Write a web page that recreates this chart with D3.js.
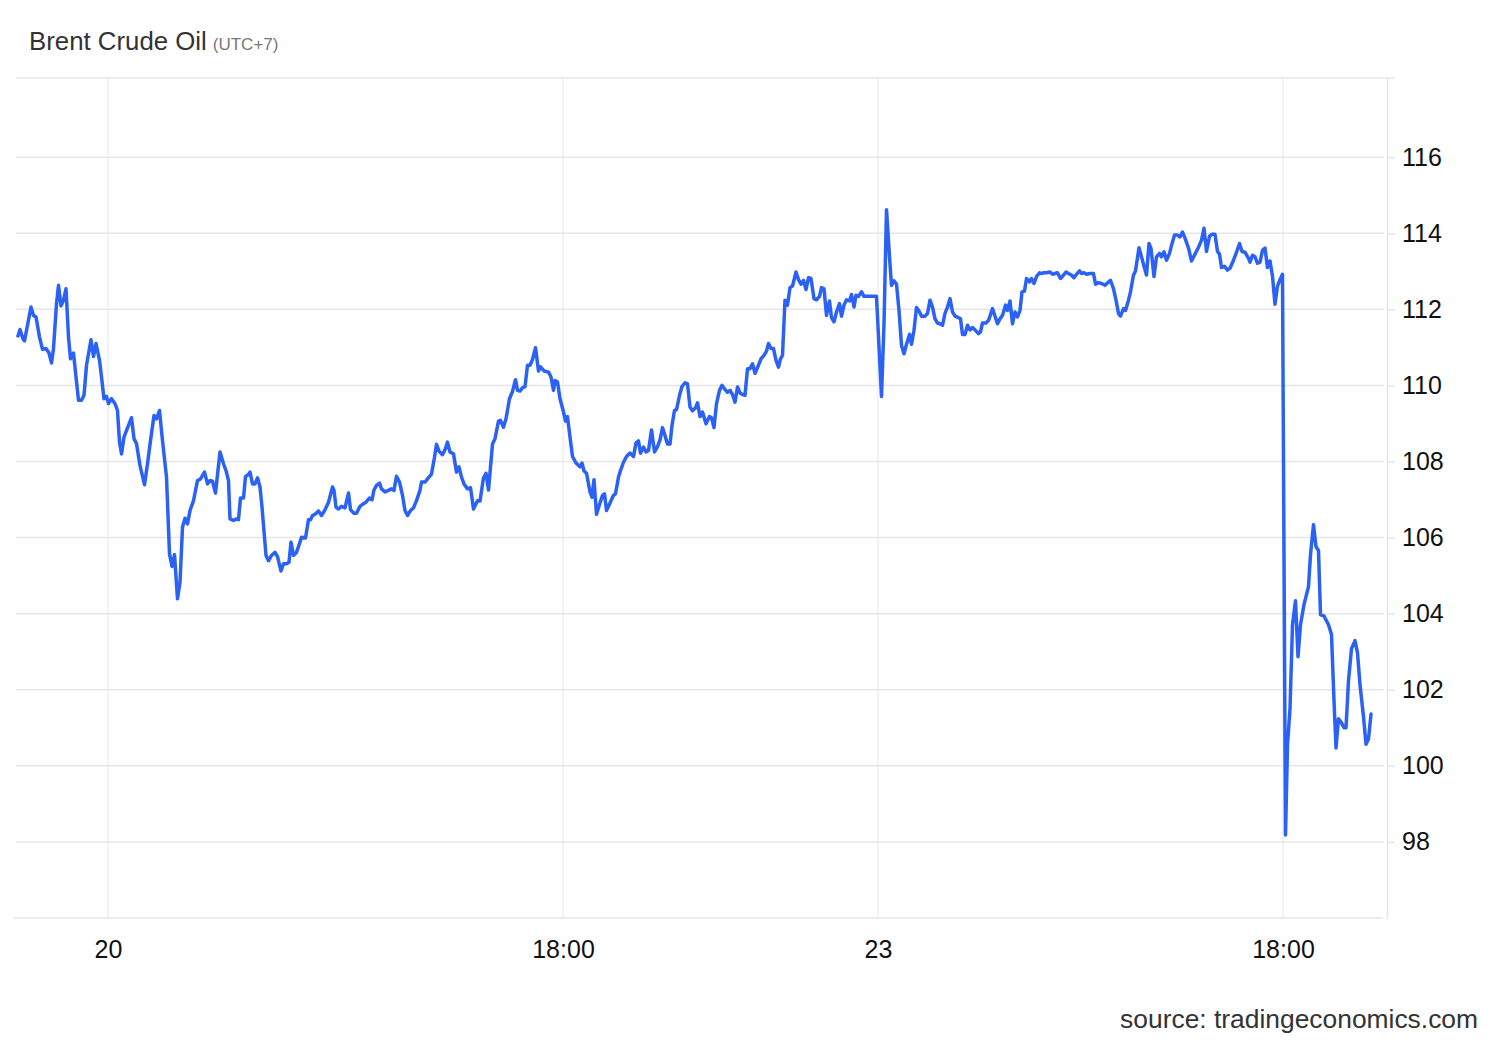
<!DOCTYPE html>
<html>
<head>
<meta charset="utf-8">
<script src="https://cdn.jsdelivr.net/npm/d3@7"></script>
<style>
  body { margin: 0; background: #fff; }
  svg { display: block; font-family: "Liberation Sans", Arial, sans-serif; }
</style>
</head>
<body>
<svg></svg>
<script>
const width = 1500;
const height = 1040;

// ================================
// Data (time slots are trading-time steps)
// ================================

const slots = [
  0, 0.4, 1.0, 1.3, 1.9, 2.6, 3.1, 3.6, 4.3, 4.9, 5.6, 6.2, 6.7, 7.1, 7.7, 8.1, 8.6, 9.1, 9.6, 10.1,
  10.5, 11.1, 11.6, 12.1, 12.7, 13.2, 13.7, 14.6, 15.1, 15.6, 16.3, 16.7, 17.2, 17.7, 18.1, 18.7, 19.4, 19.9, 20.3, 20.7,
  21.2, 22.1, 22.7, 23.2, 23.7, 24.4, 25.3, 25.9, 26.5, 27.2, 27.7, 28.3, 28.9, 29.7, 30.3, 30.8, 31.3, 31.9, 32.4, 32.9,
  33.4, 33.9, 34.4, 35.1, 35.9, 36.5, 37.3, 37.9, 38.4, 38.9, 39.5, 40.4, 41.1, 41.6, 42.1, 42.4, 43.1, 43.6, 44.1, 44.5,
  45.1, 45.5, 46.1, 46.4, 46.9, 47.4, 47.9, 48.4, 48.8, 49.6, 50.1, 50.7, 51.4, 51.9, 52.6, 53.1, 53.7, 54.2, 54.6, 55.1,
  55.7, 56.4, 56.7, 57.5, 58.1, 58.5, 58.9, 59.4, 60.1, 60.7, 61.4, 62.1, 62.9, 63.2, 63.6, 64.1, 64.7, 65.4, 66.1, 66.5,
  67.2, 67.7, 68.4, 69.1, 69.6, 70.3, 70.8, 71.2, 71.7, 72.3, 72.7, 73.4, 74.1, 74.7, 75.2, 75.7, 76.3, 76.9, 77.4, 77.9,
  78.5, 79.1, 79.7, 80.4, 80.7, 81.4, 81.9, 82.7, 83.3, 83.7, 84.2, 84.9, 85.4, 85.9, 86.4, 87.1, 87.7, 88.2, 88.7, 89.2,
  89.9, 90.5, 91.1, 91.9, 92.4, 93.1, 93.6, 94.1, 94.9, 95.4, 96.1, 96.5, 97.1, 97.6, 98.3, 98.9, 99.5, 99.9, 100.4, 100.9,
  101.4, 101.9, 102.4, 102.9, 103.5, 104.1, 104.5, 105.2, 106.1, 106.6, 107.1, 107.4, 107.9, 108.4, 109.1, 109.5, 109.9, 110.4, 110.9, 111.6,
  112.4, 112.8, 113.2, 113.7, 114.4, 114.8, 115.2, 115.7, 116.3, 116.9, 117.3, 117.7, 118.4, 119.1, 119.5, 120.1, 120.5, 121.1, 121.7, 122.4,
  123.1, 123.6, 124.1, 124.5, 125.1, 125.6, 126.1, 126.7, 127.3, 127.9, 128.4, 128.9, 129.4, 129.9, 130.4, 130.8, 131.3, 131.7, 132.3, 132.8,
  133.4, 133.9, 134.4, 134.9, 135.5, 135.9, 136.4, 136.9, 137.6, 138.3, 138.7, 139.2, 139.7, 140.3, 140.8, 141.3, 141.9, 142.4, 142.9, 143.4,
  143.9, 144.4, 144.9, 145.4, 145.9, 146.4, 146.9, 147.4, 148.1, 148.6, 149.2, 149.7, 150.1, 150.6, 151.1, 151.6, 152.1, 152.5, 152.9, 153.4,
  153.9, 154.4, 154.9, 155.6, 156.1, 156.6, 157.1, 157.6, 158.1, 158.6, 159.2, 159.7, 160.3, 160.7, 161.2, 161.7, 162.3, 162.7, 163.2, 163.7,
  164.3, 164.7, 165.2, 165.7, 166.3, 166.7, 167.2, 167.6, 168.1, 168.7, 169.2, 170.4, 171.7, 172.3, 172.7, 173.2, 173.7, 174.3, 174.7, 175.2,
  175.7, 176.2, 176.7, 177.2, 177.7, 178.3, 178.7, 179.2, 179.7, 180.3, 180.7, 181.4, 181.9, 182.4, 182.9, 183.4, 183.9, 184.4, 184.9, 185.4,
  185.9, 186.4, 186.9, 187.4, 188.1, 188.5, 188.9, 189.4, 189.9, 190.4, 190.9, 191.4, 192.1, 192.5, 192.9, 193.6, 194.1, 194.4, 194.9, 195.4,
  195.9, 196.4, 196.9, 197.5, 197.9, 198.4, 198.9, 199.4, 199.9, 200.4, 200.8, 201.3, 201.7, 202.3, 202.7, 203.2, 203.7, 204.3, 204.7, 205.2,
  205.7, 206.4, 206.9, 207.4, 207.9, 208.5, 209.1, 209.6, 210.1, 210.7, 211.2, 211.7, 212.3, 212.7, 213.2, 213.7, 214.4, 215.1, 215.5, 216.1,
  216.7, 217.4, 218.1, 218.5, 219.1, 219.6, 220.1, 220.5, 221.1, 221.5, 222.1, 222.5, 223.1, 223.5, 224.2, 224.7, 225.2, 225.7, 226.2, 226.6,
  227.2, 227.7, 228.3, 228.7, 229.2, 229.7, 230.3, 230.7, 231.3, 231.9, 232.4, 232.9, 233.4, 234.1, 234.7, 235.4, 236.1, 236.7, 237.2, 237.7,
  238.3, 238.8, 239.4, 239.9, 240.3, 240.7, 241.3, 241.9, 242.4, 243.1, 243.7, 244.3, 244.8, 245.4, 246.1, 246.4, 246.9, 247.4, 247.9, 248.4,
  248.9, 249.4, 249.9, 250.4, 250.9, 251.4, 251.9, 252.4, 252.9, 253.5, 253.9, 254.4, 254.9, 255.5, 256.0, 256.5, 257.2, 258.1, 258.5, 259.1,
  259.6, 260.1, 260.5, 261.2, 262.1, 262.7, 263.2, 263.6, 264.1, 264.7, 265.2, 265.6, 266.1, 266.7, 267.4, 267.9, 268.4, 269.1, 269.6, 270.1,
  270.6
];

const prices = [
  111.30, 111.47, 111.22, 111.17, 111.58, 112.06, 111.84, 111.80, 111.27, 110.95, 110.97, 110.85, 110.59, 110.97, 112.15, 112.63, 112.09, 112.24, 112.54, 111.27,
  110.70, 110.85, 110.22, 109.61, 109.61, 109.74, 110.53, 111.20, 110.76, 111.10, 110.66, 110.22, 109.65, 109.71, 109.52, 109.65, 109.52, 109.34, 108.51, 108.20,
  108.64, 108.95, 109.15, 108.60, 108.47, 107.89, 107.39, 107.94, 108.55, 109.21, 109.12, 109.34, 108.55, 107.59, 105.57, 105.24, 105.55, 104.39, 104.82, 106.27,
  106.51, 106.36, 106.71, 106.97, 107.50, 107.54, 107.72, 107.41, 107.50, 107.48, 107.17, 108.25, 107.94, 107.76, 107.50, 106.49, 106.45, 106.49, 106.47, 107.04,
  107.04, 107.60, 107.66, 107.72, 107.41, 107.41, 107.57, 107.33, 106.80, 105.53, 105.39, 105.53, 105.61, 105.50, 105.12, 105.31, 105.31, 105.35, 105.88, 105.53,
  105.61, 105.88, 106.01, 105.99, 106.47, 106.47, 106.58, 106.61, 106.70, 106.58, 106.73, 106.93, 107.33, 107.24, 106.80, 106.75, 106.82, 106.78, 107.17, 106.73,
  106.64, 106.64, 106.82, 106.89, 106.93, 107.04, 106.99, 107.25, 107.37, 107.43, 107.28, 107.20, 107.24, 107.28, 107.24, 107.61, 107.46, 107.11, 106.71, 106.58,
  106.71, 106.78, 106.97, 107.24, 107.46, 107.46, 107.54, 107.67, 108.11, 108.45, 108.27, 108.18, 108.31, 108.51, 108.25, 108.20, 107.72, 107.86, 107.59, 107.41,
  107.28, 107.31, 106.75, 106.97, 106.96, 107.57, 107.69, 107.25, 108.46, 108.60, 109.06, 109.08, 108.90, 109.12, 109.65, 109.84, 110.15, 109.87, 109.85, 109.94,
  109.96, 110.53, 110.53, 110.68, 110.99, 110.38, 110.49, 110.38, 110.35, 110.22, 109.87, 110.13, 110.09, 109.65, 109.30, 109.06, 109.18, 108.64, 108.13, 107.96,
  107.86, 107.96, 107.75, 107.69, 107.20, 107.06, 107.52, 106.61, 106.87, 107.11, 107.15, 106.71, 106.91, 107.11, 107.15, 107.59, 107.76, 107.98, 108.13, 108.22,
  108.13, 108.49, 108.54, 108.22, 108.38, 108.25, 108.29, 108.83, 108.25, 108.39, 108.57, 108.89, 108.68, 108.46, 108.46, 108.95, 109.34, 109.36, 109.74, 109.97,
  110.07, 110.04, 109.43, 109.33, 109.41, 109.54, 109.18, 109.30, 108.99, 109.18, 109.15, 108.89, 109.52, 109.87, 110.00, 109.91, 109.82, 109.87, 109.76, 109.56,
  109.96, 109.80, 109.76, 109.74, 110.44, 110.44, 110.57, 110.32, 110.53, 110.70, 110.79, 110.90, 111.10, 110.97, 110.97, 110.66, 110.48, 110.70, 110.79, 112.24,
  112.11, 112.57, 112.61, 112.98, 112.78, 112.66, 112.76, 112.52, 112.83, 112.81, 112.28, 112.25, 112.34, 112.57, 112.54, 111.84, 112.22, 111.78, 111.67, 111.93,
  112.15, 111.82, 112.11, 112.25, 112.22, 112.39, 112.06, 112.37, 112.34, 112.46, 112.34, 112.34, 112.34, 110.75, 109.71, 111.62, 114.62, 113.38, 112.63, 112.75,
  112.66, 111.97, 111.05, 110.83, 111.08, 111.34, 111.08, 111.45, 112.05, 111.93, 111.82, 111.82, 111.89, 112.24, 112.06, 111.75, 111.64, 111.62, 111.58, 111.89,
  112.06, 112.28, 111.93, 111.82, 111.78, 111.75, 111.34, 111.34, 111.58, 111.46, 111.52, 111.46, 111.36, 111.41, 111.64, 111.64, 111.71, 111.82, 112.02, 111.82,
  111.62, 111.75, 111.84, 112.11, 111.97, 112.22, 111.62, 111.93, 111.80, 111.97, 112.46, 112.48, 112.81, 112.72, 112.81, 112.68, 112.86, 112.96, 112.94, 112.96,
  112.96, 112.98, 112.92, 112.94, 112.96, 112.81, 112.90, 112.98, 112.94, 112.90, 112.83, 112.92, 113.01, 112.94, 112.96, 112.92, 112.94, 112.94, 112.66, 112.70,
  112.68, 112.63, 112.72, 112.76, 112.54, 112.24, 111.89, 111.82, 112.02, 111.97, 112.24, 112.46, 112.90, 113.01, 113.62, 113.38, 113.13, 112.90, 113.73, 113.60,
  112.86, 113.38, 113.47, 113.38, 113.51, 113.29, 113.47, 113.68, 113.95, 113.95, 113.90, 114.03, 113.87, 113.61, 113.27, 113.45, 113.63, 113.82, 114.13, 113.52,
  113.92, 113.97, 113.97, 113.52, 113.45, 113.10, 113.13, 113.03, 113.08, 113.29, 113.50, 113.73, 113.52, 113.50, 113.34, 113.24, 113.42, 113.38, 113.21, 113.24,
  113.55, 113.61, 113.10, 113.27, 112.87, 112.13, 112.61, 112.78, 112.92, 98.18, 100.55, 101.50, 103.71, 104.34, 102.87, 103.71, 104.24, 104.71, 105.55, 106.34,
  105.76, 105.66, 103.97, 103.94, 103.71, 103.45, 101.71, 100.47, 101.24, 101.13, 101.00, 101.00, 102.24, 103.08, 103.29, 102.97, 102.13, 101.29, 100.57, 100.71,
  101.36
];

const yTicks = [98, 100, 102, 104, 106, 108, 110, 112, 114, 116];
const xTickSlots = [18, 109, 172, 253];
const xTickLabels = ['20', '18:00', '23', '18:00'];

// ================================
// Layout
// ================================

const plot = { left: 17, right: 1387, top: 78, bottom: 918 };
const gridColor = '#e6e6e6';

const svg = d3.select('svg')
  .attr('width', width)
  .attr('height', height);

const x = d3.scaleLinear()
  .domain([-0.2, 273.8])
  .range([plot.left, plot.right]);

const y = d3.scaleLinear()
  .domain([96, 118.08])
  .range([plot.bottom, plot.top]);

// ================================
// Grid
// ================================

svg.append('g')
  .selectAll('line')
  .data(xTickSlots)
  .enter()
  .append('line')
    .attr('x1', d => x(d))
    .attr('x2', d => x(d))
    .attr('y1', plot.top)
    .attr('y2', plot.bottom)
    .attr('stroke', '#efefef')
    .attr('stroke-width', 1.5);

svg.append('g')
  .selectAll('line')
  .data(yTicks)
  .enter()
  .append('line')
    .attr('x1', plot.left - 1)
    .attr('x2', plot.right - 3)
    .attr('y1', d => y(d))
    .attr('y2', d => y(d))
    .attr('stroke', gridColor)
    .attr('stroke-width', 1.5);

// top and bottom frame lines
svg.append('line')
  .attr('x1', plot.left - 1).attr('x2', plot.right + 8)
  .attr('y1', plot.top).attr('y2', plot.top)
  .attr('stroke', gridColor).attr('stroke-width', 1.5);

svg.append('line')
  .attr('x1', plot.left - 3).attr('x2', plot.right - 4)
  .attr('y1', plot.bottom).attr('y2', plot.bottom)
  .attr('stroke', gridColor).attr('stroke-width', 1.5);

// ================================
// Axes
// ================================

const yAxis = svg.append('g')
  .attr('transform', `translate(${plot.right},0)`)
  .call(d3.axisRight(y)
    .tickValues(yTicks)
    .tickSize(8)
    .tickSizeOuter(0)
    .tickPadding(7));

yAxis.select('.domain').attr('stroke', gridColor).attr('stroke-width', 1.5);
yAxis.selectAll('.tick line').attr('stroke', gridColor).attr('stroke-width', 1.5);
yAxis.selectAll('.tick text')
  .attr('fill', '#111')
  .style('font-size', '25px');

const xAxis = svg.append('g')
  .attr('transform', `translate(0,${plot.bottom})`)
  .call(d3.axisBottom(x)
    .tickValues(xTickSlots)
    .tickFormat((d, i) => xTickLabels[i])
    .tickSize(0)
    .tickPadding(22));

xAxis.select('.domain').remove();
xAxis.selectAll('.tick text')
  .attr('fill', '#111')
  .style('font-size', '25px');

// ================================
// Price line
// ================================

const points = slots.map((s, i) => ({ slot: s, price: prices[i] }));

const line = d3.line()
  .x(d => x(d.slot))
  .y(d => y(d.price));

svg.append('path')
  .datum(points)
  .attr('d', line)
  .attr('fill', 'none')
  .attr('stroke', '#2b62f5')
  .attr('stroke-width', 3.5)
  .attr('stroke-linejoin', 'round')
  .attr('stroke-linecap', 'round');

// ================================
// Titles
// ================================

const title = svg.append('text')
  .attr('x', 29)
  .attr('y', 50)
  .attr('fill', '#333')
  .style('font-size', '25.8px');

title.append('tspan').text('Brent Crude Oil');
title.append('tspan')
  .attr('dx', 6)
  .attr('fill', '#777')
  .style('font-size', '17px')
  .text('(UTC+7)');

svg.append('text')
  .attr('x', 1478)
  .attr('y', 1028)
  .attr('text-anchor', 'end')
  .attr('fill', '#333')
  .style('font-size', '26.4px')
  .text('source: tradingeconomics.com');
</script>
</body>
</html>
